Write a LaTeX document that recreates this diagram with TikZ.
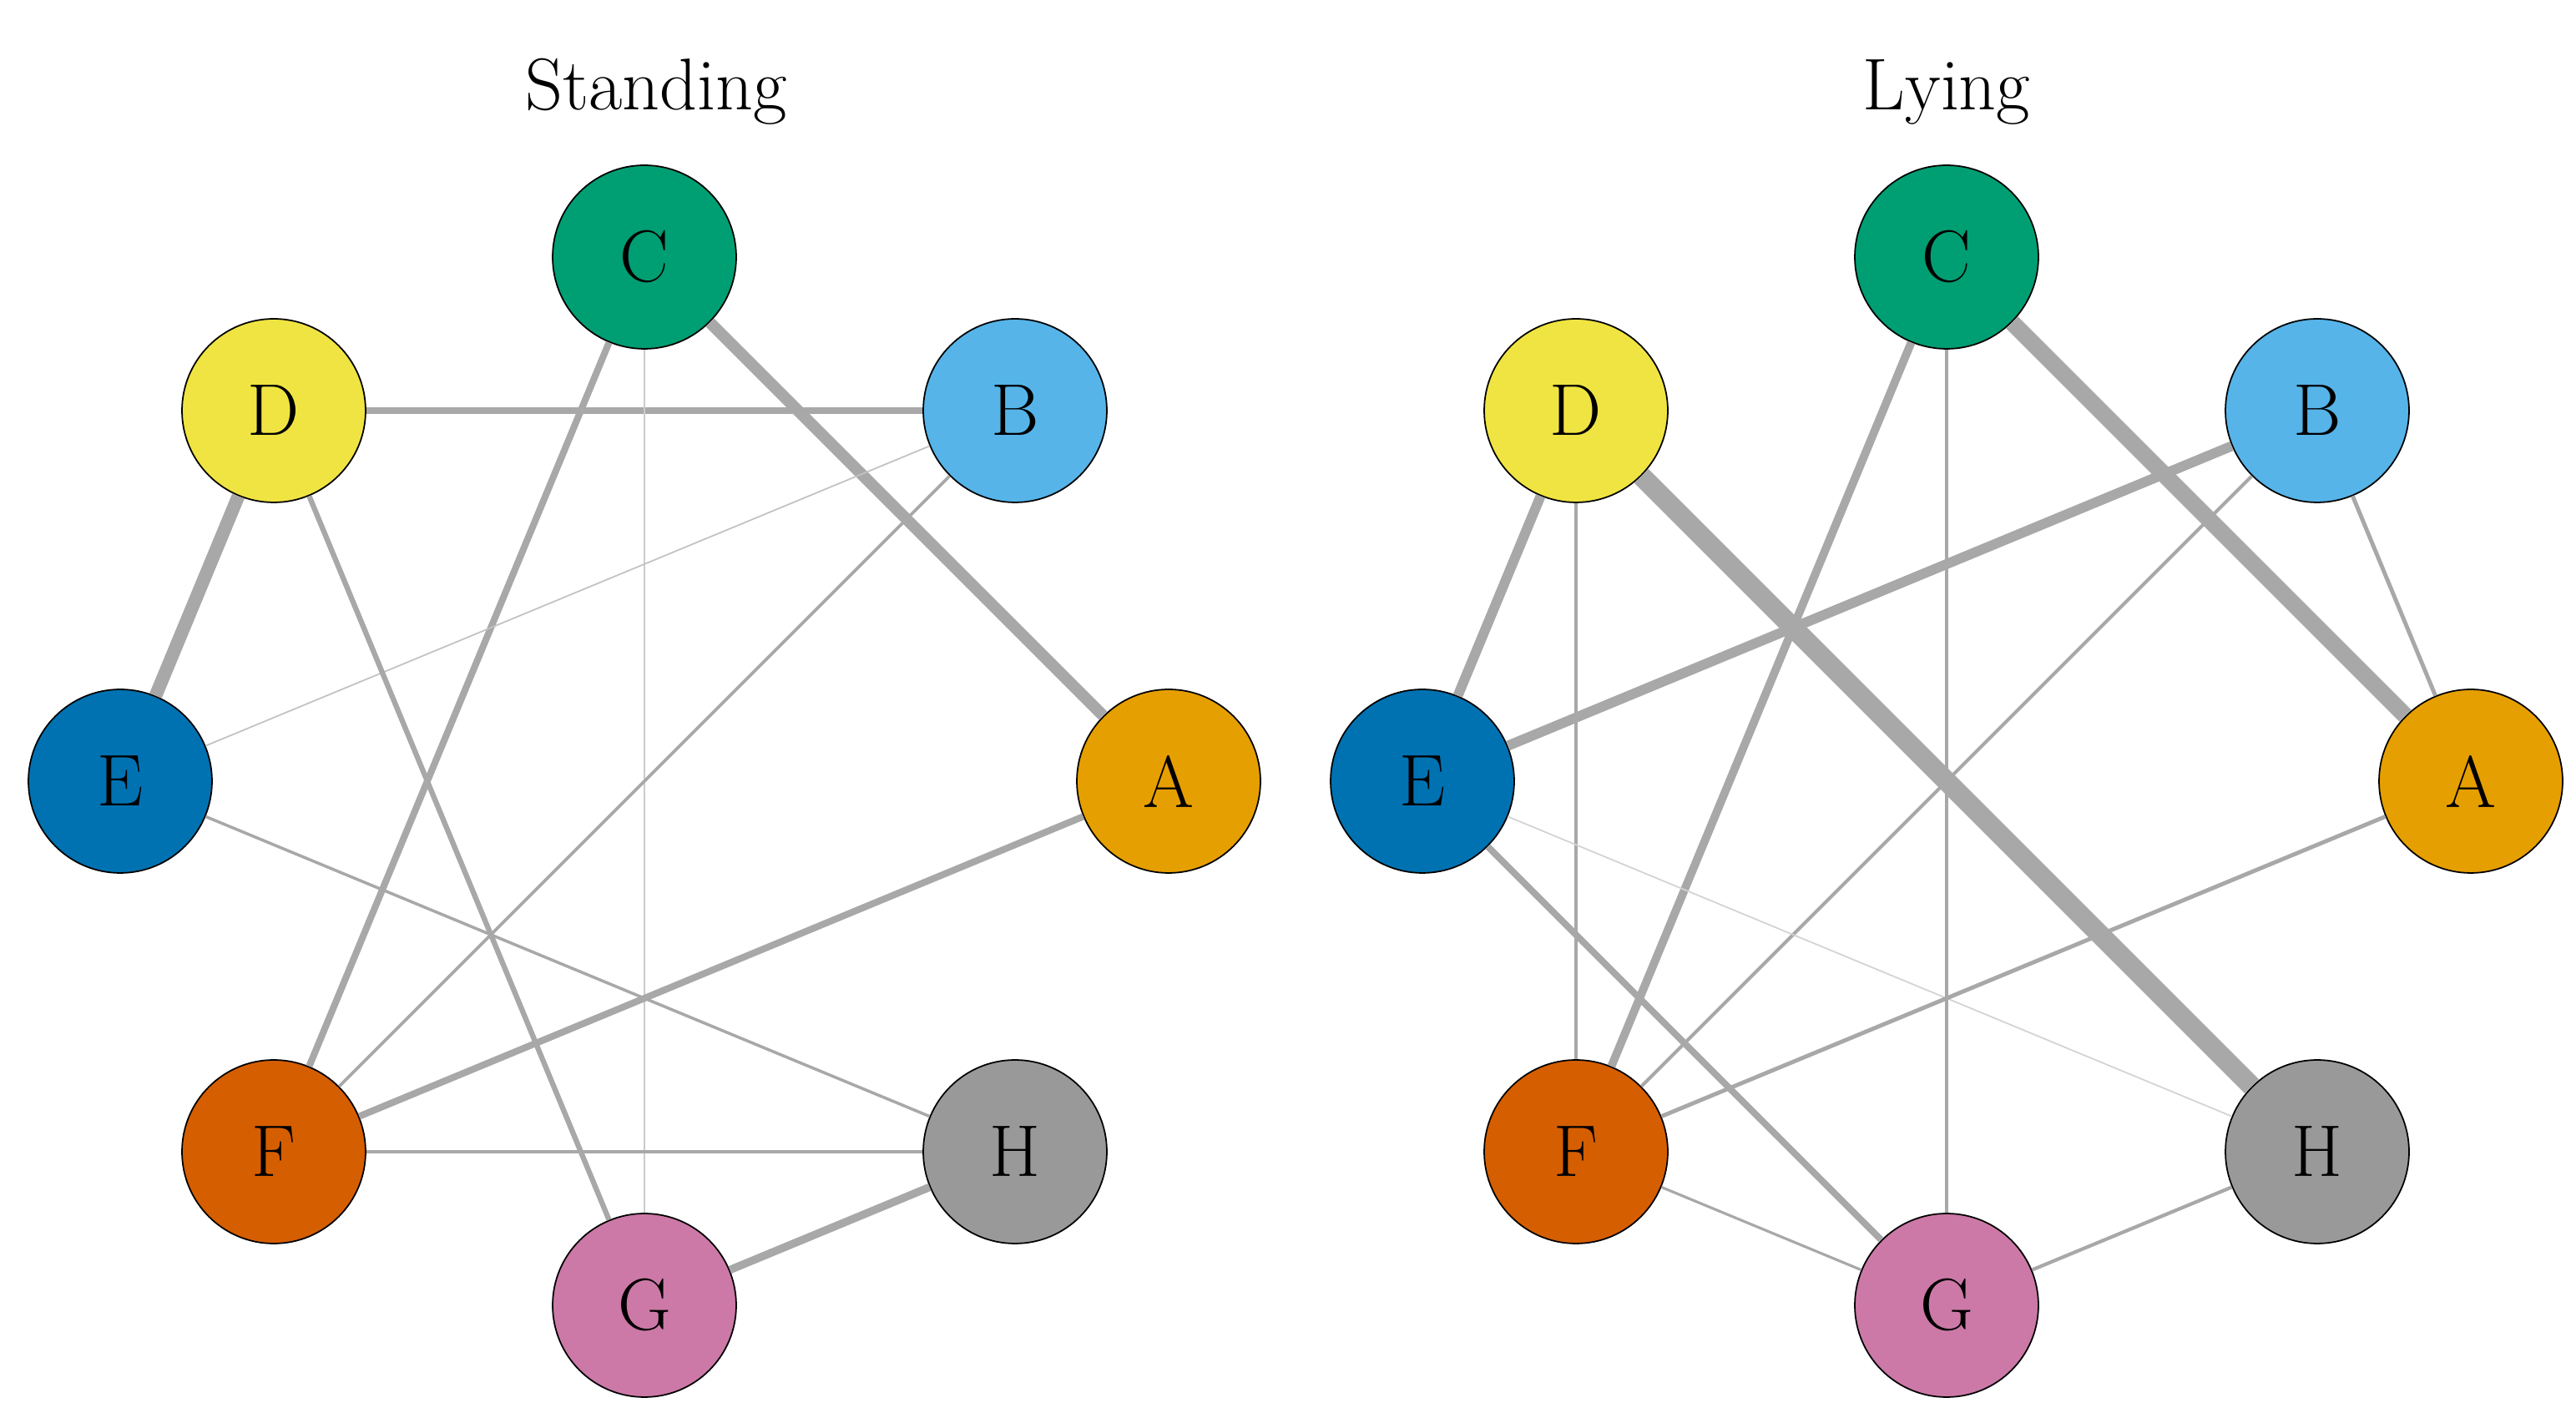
\documentclass[tikz,border=0pt]{standalone}
\begin{document}
\begin{tikzpicture}[x=0.02cm,y=-0.02cm,
  nd/.style={circle,draw=black,line width=0.5pt,minimum size=2.2cm,inner sep=0pt,font=\fontsize{25}{30}\selectfont},
  ed/.style={draw=edgegray,line width=#1},
  ttl/.style={font=\fontsize{25}{30}\selectfont}]
\definecolor{edgegray}{RGB}{168,168,168}
\definecolor{cA}{HTML}{E69F00}\definecolor{cB}{HTML}{56B4E9}
\definecolor{cC}{HTML}{009E73}\definecolor{cD}{HTML}{F0E442}
\definecolor{cE}{HTML}{0072B2}\definecolor{cF}{HTML}{D55E00}
\definecolor{cG}{HTML}{CC79A7}\definecolor{cH}{HTML}{999999}
\useasboundingbox (0,0) rectangle (1543,855.5);
% left
\node[ttl] (t1) at (393,55) {Standing};
\node[nd,fill=cC] (LC) at (386,154) {C};
\node[nd,fill=cB] (LB) at (608,246) {B};
\node[nd,fill=cA] (LA) at (700,468) {A};
\node[nd,fill=cH] (LH) at (608,690) {H};
\node[nd,fill=cG] (LG) at (386,782) {G};
\node[nd,fill=cF] (LF) at (164,690) {F};
\node[nd,fill=cE] (LE) at (72,468) {E};
\node[nd,fill=cD] (LD) at (164,246) {D};
% right
\node[ttl] (t2) at (1166,55) {Lying};
\node[nd,fill=cC] (RC) at (1166,154) {C};
\node[nd,fill=cB] (RB) at (1388,246) {B};
\node[nd,fill=cA] (RA) at (1480,468) {A};
\node[nd,fill=cH] (RH) at (1388,690) {H};
\node[nd,fill=cG] (RG) at (1166,782) {G};
\node[nd,fill=cF] (RF) at (944,690) {F};
\node[nd,fill=cE] (RE) at (852,468) {E};
\node[nd,fill=cD] (RD) at (944,246) {D};
\begin{scope}[on background layer/.style={}]
\end{scope}
\begin{pgfinterruptboundingbox}\end{pgfinterruptboundingbox}
% edges (drawn then nodes redrawn on top)
\path[ed=4pt] (LC) -- (LA);
\path[ed=2.3pt] (LD) -- (LB);
\path[ed=4.5pt] (LD) -- (LE);
\path[ed=2.3pt] (LC) -- (LF);
\path[draw=edgegray!60,line width=0.8pt] (LC) -- (LG);
\path[draw=edgegray!70,line width=0.5pt] (LE) -- (LB);
\path[ed=1.1pt] (LF) -- (LB);
\path[ed=1.8pt] (LD) -- (LG);
\path[ed=1pt] (LE) -- (LH);
\path[ed=2.3pt] (LA) -- (LF);
\path[ed=1.2pt] (LF) -- (LH);
\path[ed=2.7pt] (LG) -- (LH);
\path[ed=5.7pt] (RC) -- (RA);
\path[ed=6.8pt] (RD) -- (RH);
\path[ed=3.4pt] (RD) -- (RE);
\path[ed=1.2pt] (RD) -- (RF);
\path[ed=2.8pt] (RC) -- (RF);
\path[ed=1.4pt] (RC) -- (RG);
\path[ed=3.4pt] (RB) -- (RE);
\path[ed=1.2pt] (RB) -- (RF);
\path[ed=1.4pt] (RB) -- (RA);
\path[ed=2.3pt] (RE) -- (RG);
\path[draw=edgegray!50,line width=0.5pt] (RE) -- (RH);
\path[ed=1.4pt] (RA) -- (RF);
\path[ed=0.9pt] (RF) -- (RG);
\path[ed=1.2pt] (RG) -- (RH);
\end{tikzpicture}
\end{document}
